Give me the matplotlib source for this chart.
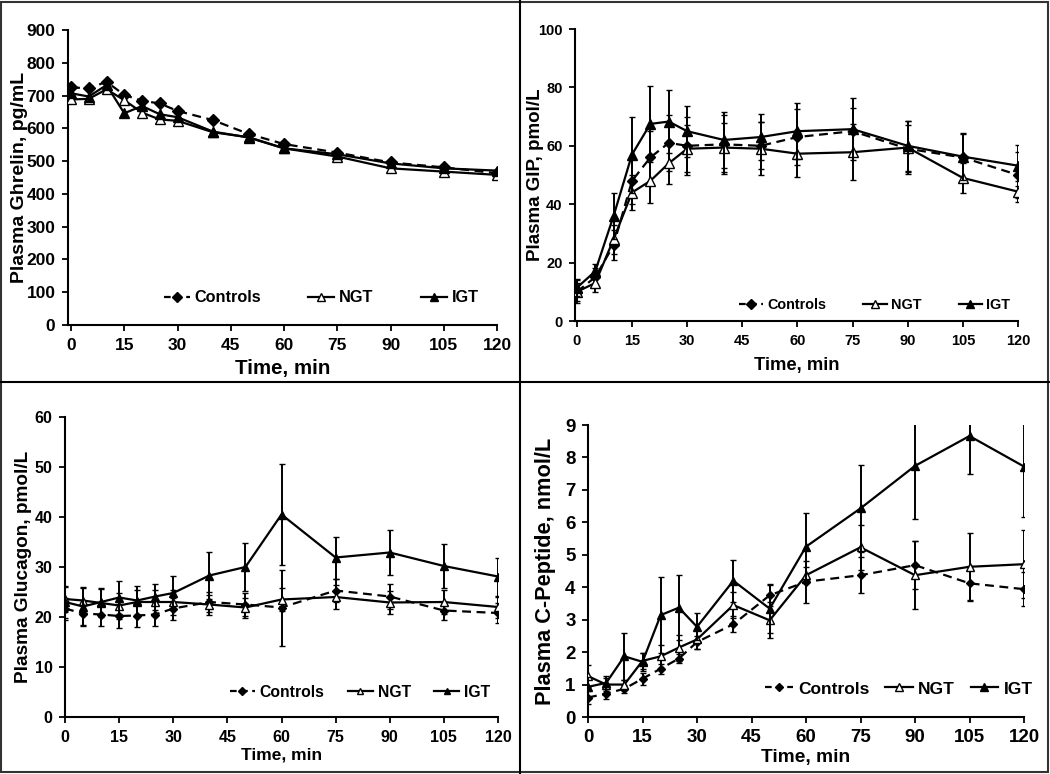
import numpy as np
import matplotlib
matplotlib.use("Agg")
import matplotlib.pyplot as plt
from matplotlib.lines import Line2D

plt.rcParams['font.family'] = ['Liberation Sans', 'DejaVu Sans']
plt.rcParams['font.weight'] = 'bold'

time = [0, 5, 10, 15, 20, 25, 30, 40, 50, 60, 75, 90, 105, 120]
groups = ['Controls', 'NGT', 'IGT']

# Plasma ghrelin, pg/mL
ghrelin_ctrl = [725, 722, 742, 702, 684, 676, 653, 625, 583, 552, 526, 496, 481, 463]
ghrelin_ngt = [688, 690, 719, 686, 648, 627, 623, 588, 573, 539, 514, 478, 468, 458]
ghrelin_igt = [707, 697, 732, 646, 668, 643, 634, 590, 572, 539, 521, 493, 478, 471]

# Plasma GIP, pmol/L
gip_ctrl = [10, 15, 26, 48, 56, 61, 60, 60.5, 60, 63, 65, 59, 56, 50]
gip_ngt = [10, 13, 28, 44, 48, 54, 59, 59.4, 59, 57.3, 57.8, 59.4, 49, 44.3]
gip_igt = [11.4, 17, 36, 57, 67.5, 68.3, 65, 62, 63, 65, 65.7, 60, 56.3, 53.2]
gip_ctrl_err = [4, 3, 5, 8, 9, 9.5, 10, 10, 8, 9.5, 8, 8, 8, 8]
gip_ngt_err = [3, 3, 5, 6, 7.5, 7, 8, 8.5, 9, 8, 9.5, 9, 5, 3.5]
gip_igt_err = [3, 2.5, 8, 13, 13, 10.7, 8.7, 9.5, 8, 9.5, 10.5, 8.5, 8, 7]

# Plasma glucagon, pmol/L
gluc_ctrl = [21.7, 20.7, 20.5, 20.2, 20.3, 20.5, 21.7, 23, 22.5, 21.9, 25.3, 24.1, 21.3, 20.8]
gluc_ngt = [23.6, 23.3, 22.8, 22.3, 23, 23, 23, 22.5, 21.9, 23.5, 24, 22.9, 23, 22]
gluc_igt = [23, 22.1, 23, 23.9, 23.3, 24.1, 24.8, 28.3, 30, 40.5, 31.9, 32.9, 30.2, 28.1]
gluc_ctrl_err = [2.2, 2.2, 2.2, 2.4, 2.2, 2.2, 2.2, 2.0, 2.3, 7.6, 2.3, 2.5, 1.8, 2.0]
gluc_ngt_err = [2.5, 2.6, 2.8, 2.6, 2.5, 2.5, 2.5, 2.0, 2.0, 2.3, 2.4, 2.3, 2.4, 2.1]
gluc_igt_err = [3.2, 3.9, 2.8, 3.3, 2.9, 2.6, 3.4, 4.7, 4.8, 10, 4.2, 4.5, 4.4, 3.8]

# Plasma C-peptide, nmol/L
cpep_ctrl = [0.6, 0.72, 0.87, 1.18, 1.49, 1.8, 2.31, 2.86, 3.75, 4.17, 4.37, 4.68, 4.12, 3.94]
cpep_ngt = [1.26, 1.0, 1.0, 1.73, 1.87, 2.14, 2.39, 3.45, 2.98, 4.37, 5.23, 4.37, 4.63, 4.71]
cpep_igt = [0.93, 1.05, 1.87, 1.7, 3.14, 3.37, 2.78, 4.2, 3.34, 5.25, 6.43, 7.74, 8.66, 7.72]
cpep_ctrl_err = [0.2, 0.15, 0.12, 0.18, 0.15, 0.15, 0.2, 0.25, 0.33, 0.65, 0.55, 0.75, 0.52, 0.52]
cpep_ngt_err = [0.35, 0.2, 0.15, 0.25, 0.35, 0.4, 0.3, 0.4, 0.55, 0.25, 0.7, 1.05, 1.05, 1.05]
cpep_igt_err = [0.3, 0.2, 0.72, 0.27, 1.18, 1.0, 0.42, 0.65, 0.75, 1.05, 1.35, 1.64, 1.18, 1.55]

W, H = 1050, 774
fig = plt.figure(figsize=(W / 100, H / 100), dpi=100)


def add_panel(left, right, top, bottom):
    # pixel box -> figure fraction
    return fig.add_axes([left / W, 1 - bottom / H, (right - left) / W, (bottom - top) / H])


def draw(ax, series, errs, xlim0, ylim, yticks, ylabel, sizes):
    (ms_d, ms_t, tick_fs, ylab_fs, xlab_fs, leg_fs,
     xlab_y, ylab_x, leg_x, leg_y, colsp) = sizes
    styles = [
        dict(marker='D', ls=(0, (4, 2.5)), mfc='black', ms=ms_d),
        dict(marker='^', ls='-', mfc='white', ms=ms_t),
        dict(marker='^', ls='-', mfc='black', ms=ms_t),
    ]
    for k, (vals, st) in enumerate(zip(series, styles)):
        err = errs[k] if errs is not None else None
        ax.errorbar(time, vals, yerr=err, color='black', lw=1.6, mec='black', mew=1,
                    elinewidth=1.4, capsize=2, capthick=1.2, zorder=3 + k,
                    label=groups[k], **st)
    ax.set_xlim(xlim0, 120)
    ax.set_ylim(*ylim)
    ax.set_xticks(range(0, 121, 15))
    ax.set_yticks(yticks)
    for s in ['top', 'right']:
        ax.spines[s].set_visible(False)
    for s in ['left', 'bottom']:
        ax.spines[s].set_linewidth(1.5)
    ax.tick_params(direction='out', length=4, width=1.3, labelsize=tick_fs, pad=5)
    for lbl in ax.get_xticklabels() + ax.get_yticklabels():
        lbl.set_fontweight('bold')
    ax.set_xlabel('Time, min', fontsize=xlab_fs, fontweight='bold')
    ax.set_ylabel(ylabel, fontsize=ylab_fs, fontweight='bold')
    ax.xaxis.set_label_coords(0.5, xlab_y)
    ax.yaxis.set_label_coords(ylab_x, 0.5)
    handles = [
        Line2D([], [], color='black', lw=1.6, ls=(0, (3, 2)), marker='D', ms=ms_d * 0.9, mfc='black'),
        Line2D([], [], color='black', lw=1.6, marker='^', ms=ms_t * 0.9, mfc='white', mec='black'),
        Line2D([], [], color='black', lw=1.6, marker='^', ms=ms_t * 0.9, mfc='black'),
    ]
    ax.legend(handles, groups, ncol=3, loc='center', bbox_to_anchor=(leg_x, leg_y),
              frameon=False, handlelength=1.6, handletextpad=0.3,
              columnspacing=colsp, prop={'weight': 'bold', 'size': leg_fs})


ax1 = add_panel(68, 497, 30, 325)
draw(ax1, [ghrelin_ctrl, ghrelin_ngt, ghrelin_igt], None, -0.85, (0, 900),
     range(0, 901, 100), 'Plasma Ghrelin, pg/mL',
     (6, 7, 12.5, 14, 14.8, 11.7, -0.115, -0.093, 0.59, 0.092, 2.9))

ax2 = add_panel(575, 1018, 29, 321)
draw(ax2, [gip_ctrl, gip_ngt, gip_igt], [gip_ctrl_err, gip_ngt_err, gip_igt_err], -0.5, (0, 100),
     range(0, 101, 20), 'Plasma GIP, pmol/L',
     (5.5, 6.5, 10.5, 13.5, 13.2, 10.4, -0.123, -0.07, 0.677, 0.055, 2.6))

ax3 = add_panel(65, 498, 417, 717)
draw(ax3, [gluc_ctrl, gluc_ngt, gluc_igt], [gluc_ctrl_err, gluc_ngt_err, gluc_igt_err], 0, (0, 60),
     range(0, 61, 10), 'Plasma Glucagon, pmol/L',
     (4, 5.5, 11.5, 13.7, 12.5, 11.3, -0.1, -0.076, 0.681, 0.083, 1.5))

ax4 = add_panel(588, 1024, 425, 717)
draw(ax4, [cpep_ctrl, cpep_ngt, cpep_igt], [cpep_ctrl_err, cpep_ngt_err, cpep_igt_err], 0, (0, 9),
     range(0, 10, 1), 'Plasma C-Peptide, nmol/L',
     (4, 6, 13.5, 15.7, 13.8, 12.5, -0.11, -0.073, 0.713, 0.096, 0.9))

# panel frames
for x0, y0, x1, y1 in [(520, 0, 520, H), (0, 382, W, 382)]:
    fig.add_artist(Line2D([x0 / W, x1 / W], [1 - y0 / H, 1 - y1 / H], color='black', lw=1.5))
fig.add_artist(plt.Rectangle((0.001, 0.002), 0.997, 0.996, fill=False, ec='#333333', lw=1.5,
                             transform=fig.transFigure))

fig.savefig('out.png', dpi=100)
